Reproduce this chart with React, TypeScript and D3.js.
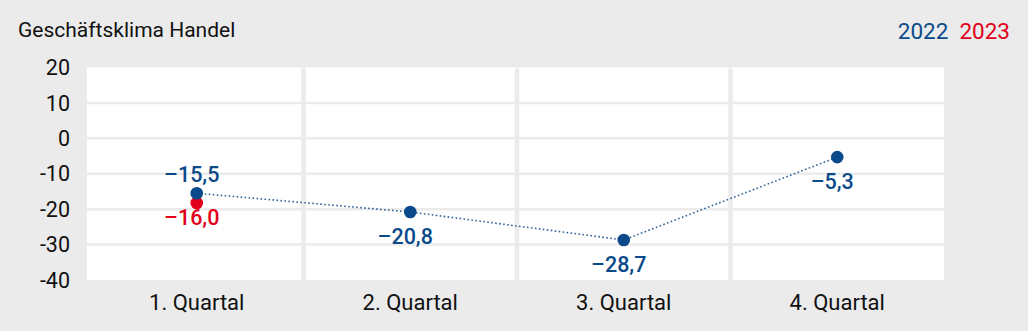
import React from "react";
import * as d3 from "d3";

const quarters = ["1. Quartal", "2. Quartal", "3. Quartal", "4. Quartal"];
const values2022 = [-15.5, -20.8, -28.7, -5.3];
const values2023 = [-16.0];
const labelSide2022 = ["above", "below", "below", "below"];
const yTicks = [20, 10, 0, -10, -20, -30, -40];
const yDomain: [number, number] = [-40, 20];
const title = "Geschäftsklima Handel";
const legendYears = ["2022", "2023"];

const W = 1028;
const H = 331;
const BG = "#ebebeb";
const BLUE = "#0a4a8a";
const RED = "#e2001a";
const FONT = "Roboto, 'Noto Sans', sans-serif";

const plotLeft = 87;
const plotRight = 944;
const plotTop = 67.5;
const plotBottom = 280;

const deLocale = d3.formatLocale({
  decimal: ",",
  thousands: ".",
  grouping: [3],
  currency: ["", " €"],
  minus: "\u2013",
});
const fmtVal = deLocale.format(".1f");
const fmtTick = (v: number) => (v < 0 ? "-" + Math.abs(v) : String(v));

export default function App() {
  const x = d3.scaleBand<string>().domain(quarters).range([90, plotRight]).padding(0);
  const y = d3.scaleLinear().domain(yDomain).range([plotBottom, plotTop]);
  const cx = (q: string) => (x(q) as number) + x.bandwidth() / 2;

  const line = d3
    .line<number>()
    .x((_, i) => cx(quarters[i]))
    .y((d) => y(d));

  const separators = quarters.slice(1).map((q) => x(q) as number);

  return (
    <svg
      width={W}
      height={H}
      style={{ position: "absolute", left: 0, top: 0, display: "block" }}
      fontFamily={FONT}
    >
      <rect x={0} y={0} width={W} height={H} fill={BG} />
      <rect
        x={plotLeft}
        y={plotTop}
        width={plotRight - plotLeft}
        height={plotBottom - plotTop}
        fill="#ffffff"
      />
      {yTicks.map((t) => (
        <g key={t}>
          {t > yDomain[0] && t < yDomain[1] && (
            <line
              x1={plotLeft}
              x2={plotRight}
              y1={y(t)}
              y2={y(t)}
              stroke={BG}
              strokeWidth={2.5}
            />
          )}
          <text
            x={70}
            y={y(t)}
            dy="0.36em"
            textAnchor="end"
            fontSize={21.5}
            fill="#111"
          >
            {fmtTick(t)}
          </text>
        </g>
      ))}
      {separators.map((sx, i) => (
        <line
          key={i}
          x1={sx}
          x2={sx}
          y1={plotTop + 1}
          y2={plotBottom}
          stroke={BG}
          strokeWidth={4.5}
        />
      ))}
      {quarters.map((q) => (
        <text
          key={q}
          x={cx(q)}
          y={310}
          textAnchor="middle"
          fontSize={22}
          fill="#111"
        >
          {q}
        </text>
      ))}
      <path
        d={line(values2022) || ""}
        fill="none"
        stroke={BLUE}
        strokeWidth={1.6}
        strokeDasharray="1.6 2.4"
        opacity={0.85}
      />
      {values2023.map((v, i) => (
        <g key={"r" + i}>
          <circle cx={cx(quarters[i])} cy={y(v) + 8} r={6.3} fill={RED} />
          <text
            x={cx(quarters[i]) - 5}
            y={y(v) + 8 + 22}
            textAnchor="middle"
            fontSize={21.5}
            fontWeight={500}
            fill={RED}
          >
            {fmtVal(v)}
          </text>
        </g>
      ))}
      {values2022.map((v, i) => (
        <g key={"b" + i}>
          <circle cx={cx(quarters[i])} cy={y(v)} r={6.3} fill={BLUE} />
          <text
            x={cx(quarters[i]) - 5}
            y={labelSide2022[i] === "above" ? y(v) - 11 : y(v) + 32}
            textAnchor="middle"
            fontSize={21.5}
            fontWeight={500}
            fill={BLUE}
          >
            {fmtVal(v)}
          </text>
        </g>
      ))}
      <text x={18} y={37} fontSize={21} fill="#111">
        {title}
      </text>
      <text x={1010} y={39} textAnchor="end" fontSize={22.5}>
        <tspan fill={BLUE}>{legendYears[0]}</tspan>
        <tspan fill={RED} dx={11}>
          {legendYears[1]}
        </tspan>
      </text>
    </svg>
  );
}
